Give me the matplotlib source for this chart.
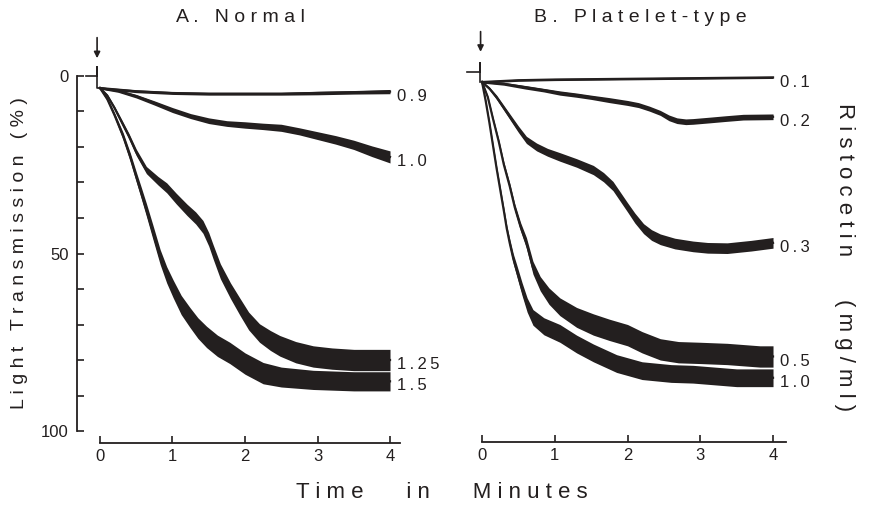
import numpy as np
import matplotlib.pyplot as plt

plt.rcParams['font.family'] = ['Liberation Sans', 'DejaVu Sans']
INK = '#231f1f'

# ---- data (time in min, light transmission in %) ----
# panel A: normal
a_labels = ['0.9', '1.0', '1.25', '1.5']
a_t09 = [0, 0.5, 1, 1.5, 2, 2.5, 3, 3.5, 4]
a_p09 = [3.4, 4.3, 4.8, 5.0, 5.0, 5.0, 4.8, 4.6, 4.4]
a_w09 = [0.3, 0.4, 0.4, 0.4, 0.4, 0.4, 0.5, 0.5, 0.6]
a_t10 = [0, 0.25, 0.5, 0.75, 1.0, 1.25, 1.5, 1.75, 2.0, 2.25, 2.5, 2.75,
         3.0, 3.25, 3.5, 3.75, 4.0]
a_p10 = [3.4, 4.2, 5.7, 7.6, 9.6, 11.3, 12.6, 13.4, 13.8, 14.2, 14.6, 15.6,
         16.8, 18.0, 19.4, 21.2, 22.8]
a_w10 = [0.3, 0.4, 0.5, 0.6, 0.7, 0.7, 0.8, 0.8, 0.9, 0.9, 1.0, 1.0,
         1.1, 1.2, 1.3, 1.5, 1.7]
a_t125 = [0, 0.1, 0.2, 0.3, 0.4, 0.5, 0.64, 0.8, 0.92, 1.05, 1.2, 1.32, 1.42,
          1.5, 1.56, 1.66, 1.8, 1.93, 2.05, 2.2, 2.35, 2.48, 2.7, 2.94, 3.2,
          3.5, 4.0]
a_p125 = [3.4, 5.5, 9, 13, 17, 21.5, 26.5, 29.5, 31.5, 34.5, 37.7, 40, 42.5,
          46, 49.5, 55, 60.5, 65, 69, 72.4, 74.5, 76, 77.8, 79, 79.6,
          80, 80]
a_w125 = [0.3, 0.4, 0.5, 0.7, 0.8, 0.9, 1.0, 1.2, 1.4, 1.5, 1.6, 1.7, 1.8,
          1.9, 2.0, 2.1, 2.2, 2.4, 2.5, 2.6, 2.8, 2.9, 3.0, 3.0, 3.0,
          3.0, 3.0]
a_t15 = [0, 0.1, 0.2, 0.32, 0.42, 0.5, 0.57, 0.64, 0.73, 0.83, 0.92, 1.01,
         1.12, 1.24, 1.35, 1.47, 1.62, 1.79, 2.0, 2.25, 2.5, 2.94, 3.5, 4.0]
a_p15 = [3.4, 6.5, 11, 17, 23, 28.4, 33, 37.7, 44, 51, 56, 60,
         64.5, 68, 71, 73.5, 76, 78, 81, 83.7, 84.8, 85.6, 86, 86]
a_w15 = [0.3, 0.5, 0.7, 1.0, 1.2, 1.4, 1.6, 1.8, 2.0, 2.1, 2.3, 2.5,
         2.7, 2.8, 2.9, 3.0, 3.0, 3.0, 3.0, 3.0, 2.8, 2.7, 2.7, 2.7]
a_base_t = [-0.19, -0.04, -0.04, -0.04, 0]
a_base_p = [0, 0, -2.5, 3.4, 3.4]

# panel B: platelet-type
b_labels = ['0.1', '0.2', '0.3', '0.5', '1.0']
b_t01 = [0, 0.5, 1, 1.5, 2, 2.5, 3, 3.5, 4]
b_p01 = [1.7, 1.2, 1.0, 0.9, 0.8, 0.7, 0.6, 0.5, 0.4]
b_w01 = [0.3, 0.3, 0.3, 0.3, 0.3, 0.3, 0.3, 0.3, 0.3]
b_t02 = [0, 0.3, 0.6, 0.85, 1.07, 1.3, 1.5, 1.75, 2.0, 2.15, 2.3, 2.45, 2.57,
         2.68, 2.8, 2.9, 3.13, 3.35, 3.59, 4.0]
b_p02 = [1.7, 2.2, 3.2, 4.0, 4.8, 5.4, 6.0, 6.8, 7.6, 8.2, 9.2, 10.4, 11.8,
         12.6, 12.9, 12.8, 12.4, 12.0, 11.6, 11.5]
b_w02 = [0.3, 0.4, 0.5, 0.5, 0.6, 0.6, 0.6, 0.7, 0.7, 0.7, 0.7, 0.7, 0.8,
         0.8, 0.8, 0.8, 0.8, 0.8, 0.8, 0.8]
b_t03 = [0, 0.1, 0.2, 0.3, 0.4, 0.5, 0.61, 0.75, 0.9, 1.07, 1.3, 1.53, 1.67,
         1.8, 1.9, 2.0, 2.1, 2.22, 2.33, 2.45, 2.65, 2.9, 3.1, 3.37, 3.7, 4.0]
b_p03 = [1.7, 3.5, 6, 9, 12, 15, 18, 20, 21.5, 22.8, 24.5, 26.5, 28.5,
         31, 34, 37, 40, 43, 44.8, 46, 47.2, 48, 48.4, 48.5, 47.8, 47]
b_w03 = [0.3, 0.4, 0.6, 0.7, 0.8, 0.9, 1.0, 1.1, 1.1, 1.2, 1.2, 1.3, 1.3,
         1.3, 1.3, 1.3, 1.4, 1.4, 1.5, 1.5, 1.5, 1.5, 1.5, 1.5, 1.5, 1.5]
b_t05 = [0, 0.08, 0.15, 0.23, 0.3, 0.38, 0.45, 0.53, 0.61, 0.7, 0.8, 0.92,
         1.07, 1.3, 1.53, 1.75, 2.0, 2.2, 2.45, 2.7, 3.0, 3.37, 3.82, 4.0]
b_p05 = [1.7, 6, 12, 18.5, 25, 31, 37, 42.5, 47, 54, 58.5, 62,
         65, 68, 70, 71.5, 73, 75, 77, 77.8, 78, 78.3, 79, 79]
b_w05 = [0.3, 0.4, 0.5, 0.6, 0.8, 0.9, 1.0, 1.2, 1.5, 1.8, 2.0, 2.3,
         2.5, 2.8, 3.0, 3.0, 3.0, 3.0, 3.0, 3.0, 3.0, 3.0, 3.0, 3.0]
b_t10 = [0, 0.05, 0.1, 0.15, 0.2, 0.25, 0.3, 0.34, 0.38, 0.43, 0.48, 0.55,
         0.62, 0.7, 0.85, 1.07, 1.3, 1.53, 1.85, 2.2, 2.6, 2.9, 3.5, 4.0]
b_p10 = [1.7, 7, 13, 19.5, 26, 32, 38, 43, 47, 51.5, 55, 60,
         64.5, 68, 70.5, 72.5, 75.5, 78, 81, 83, 83.8, 84, 85, 85]
b_w10 = [0.3, 0.4, 0.5, 0.6, 0.7, 0.8, 0.9, 1.0, 1.2, 1.4, 1.6, 1.8,
         2.0, 2.2, 2.4, 2.5, 2.5, 2.5, 2.5, 2.5, 2.5, 2.5, 2.5, 2.5]
b_base_t = [-0.2, -0.03, -0.03, -0.03]
b_base_p = [-1.1, -1.1, -3.6, 1.7]

xticks = [0, 1, 2, 3, 4]
yticks = list(range(0, 101, 10))
yticklabels = ['0', '', '', '', '', '50', '', '', '', '', '100']


def spaced(s):
    return ' '.join(s)


def draw_trace(ax, t, p, w, label):
    t = np.asarray(t, float)
    p = np.asarray(p, float)
    w = np.asarray(w, float)
    ax.fill_between(t, p - w, p + w, color=INK, lw=0)
    ax.plot(t, p, color=INK, lw=1.6, solid_joinstyle='round')
    ax.text(4.1, p[-1] + 1.3, '\u2009'.join(label), ha='left', va='center',
            fontsize=12, color=INK)


W, H = 874, 507
fig = plt.figure(figsize=(W / 100, H / 100), dpi=100)

axA = fig.add_axes([0, 0, 437 / W, 1])
axA.set_xlim(-1.379, 4.648)
axB = fig.add_axes([437 / W, 0, 437 / W, 1])
axB.set_xlim(-0.619, 5.388)
for ax in (axA, axB):
    ax.set_ylim(121.4, -21.4)
    ax.patch.set_alpha(0)
    ax.spines['top'].set_visible(False)
    ax.spines['right'].set_visible(False)
    ax.spines['bottom'].set_linewidth(1.3)
    ax.spines['bottom'].set_color(INK)
    ax.set_xticks(xticks)
    ax.tick_params(axis='x', direction='in', length=5, width=1.2, pad=4,
                   labelsize=12, colors=INK)

axA.spines['bottom'].set_position(('data', 103.4))
axA.spines['bottom'].set_bounds(0, 4.14)
axA.spines['left'].set_position(('data', -0.317))
axA.spines['left'].set_bounds(0, 100)
axA.spines['left'].set_linewidth(1.3)
axA.spines['left'].set_color(INK)
axA.set_yticks(yticks)
axA.set_yticklabels(yticklabels)
axA.tick_params(axis='y', direction='in', length=5, width=1.2, pad=6,
                labelsize=12, colors=INK)

axB.spines['left'].set_visible(False)
axB.spines['bottom'].set_position(('data', 103.1))
axB.spines['bottom'].set_bounds(0, 4.18)
axB.set_yticks([])

# traces
draw_trace(axA, a_t09, a_p09, a_w09, a_labels[0])
draw_trace(axA, a_t10, a_p10, a_w10, a_labels[1])
draw_trace(axA, a_t125, a_p125, a_w125, a_labels[2])
draw_trace(axA, a_t15, a_p15, a_w15, a_labels[3])
draw_trace(axB, b_t01, b_p01, b_w01, b_labels[0])
draw_trace(axB, b_t02, b_p02, b_w02, b_labels[1])
draw_trace(axB, b_t03, b_p03, b_w03, b_labels[2])
draw_trace(axB, b_t05, b_p05, b_w05, b_labels[3])
draw_trace(axB, b_t10, b_p10, b_w10, b_labels[4])
axA.plot(a_base_t, a_base_p, color=INK, lw=1.2)
axB.plot(b_base_t, b_base_p, color=INK, lw=1.2)

# addition arrows
arrow = dict(arrowstyle='-|>', color=INK, lw=1.2, mutation_scale=9,
             shrinkA=0, shrinkB=0)
axA.annotate('', xy=(-0.04, -5.0), xytext=(-0.04, -10.8), arrowprops=arrow)
axB.annotate('', xy=(-0.02, -6.8), xytext=(-0.02, -12.5), arrowprops=arrow)

# titles / axis labels
fig.text(240 / W, 1 - 18 / H, spaced('A. Normal'), ha='center', va='center',
         fontsize=14, color=INK)
fig.text(640 / W, 1 - 17 / H, spaced('B. Platelet-type'), ha='center',
         va='center', fontsize=14, color=INK)
fig.text(20 / W, 1 - 253 / H, spaced('Light Transmission (%)'), rotation=90,
         ha='center', va='center', fontsize=14, color=INK)
fig.text(845 / W, 1 - 257 / H,
         spaced('Ristocetin') + ' ' * 7 + spaced('(mg/ml)'), rotation=-90,
         ha='center', va='center', fontsize=16, color=INK)
fig.text(442 / W, 1 - 493 / H,
         spaced('Time') + ' ' * 7 + spaced('in') + ' ' * 7 + spaced('Minutes'),
         ha='center', va='center', fontsize=16, color=INK)

fig.savefig('out.png', dpi=100)
